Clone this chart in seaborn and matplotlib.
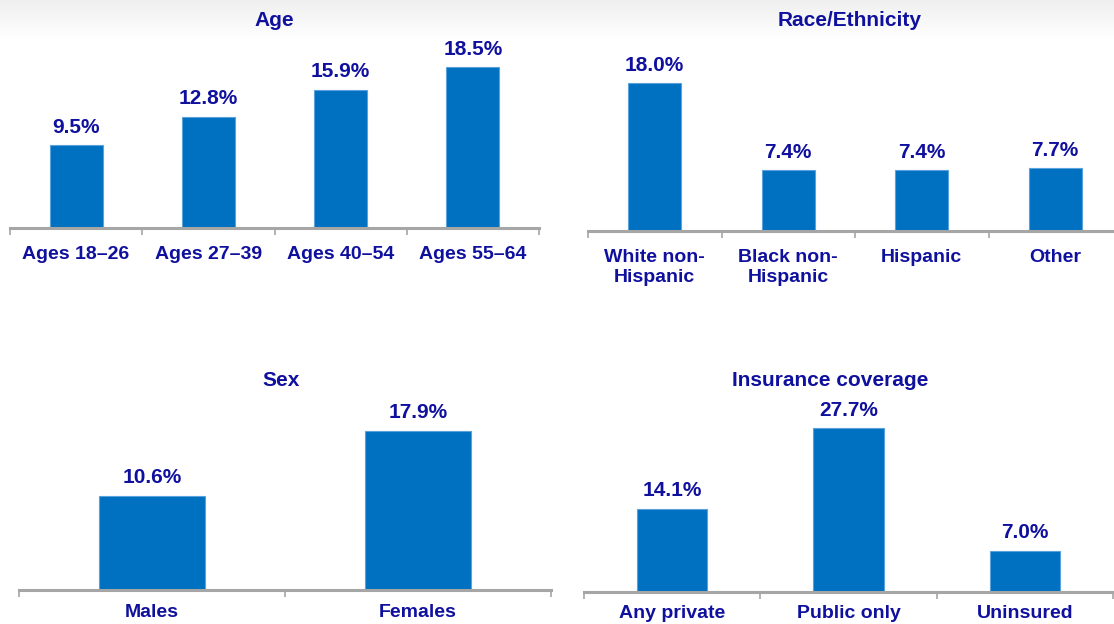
import numpy as np
import matplotlib
matplotlib.use('Agg')
import matplotlib.pyplot as plt
import seaborn as sns

# Data
age_labels = ['Ages 18–26', 'Ages 27–39', 'Ages 40–54', 'Ages 55–64']
age_values = [9.5, 12.8, 15.9, 18.5]

race_labels = ['White non-\nHispanic', 'Black non-\nHispanic', 'Hispanic', 'Other']
race_values = [18.0, 7.4, 7.4, 7.7]

sex_labels = ['Males', 'Females']
sex_values = [10.6, 17.9]

ins_labels = ['Any private', 'Public only', 'Uninsured']
ins_values = [14.1, 27.7, 7.0]

sns.set_style('white')
plt.rcParams['font.family'] = ['Liberation Sans', 'DejaVu Sans']

BAR = '#0070C0'
EDGE = '#5AA2DC'
TXT = '#10109E'
AXIS = '#A6A6A6'

W, H = 1114, 624
fig = plt.figure(figsize=(W / 100, H / 100), dpi=100)
fig.patch.set_facecolor('white')

# light gray band at the top
bg = fig.add_axes([0, 1 - 40 / H, 1, 40 / H])
grad = np.linspace(0.94, 1.0, 64).reshape(-1, 1)
bg.imshow(np.dstack([grad, grad, grad]), aspect='auto', extent=[0, 1, 0, 1])
bg.set_axis_off()

# (labels, values, title, left px, right px, axis y px, top y px, px per unit, title x offset, label pad)
panels = [
    (age_labels, age_values, 'Age', 10, 539, 228, 40, 8.7, 0, 13),
    (race_labels, race_values, 'Race/Ethnicity', 588, 1122, 231, 40, 8.2, -5, 13),
    (sex_labels, sex_values, 'Sex', 19, 551, 590, 400, 8.9, -4, 10),
    (ins_labels, ins_values, 'Insurance coverage', 584, 1113, 592, 400, 5.92, -18, 9),
]

for labels, values, title, x0, x1, yb, yt, ppu, tdx, lpad in panels:
    ax = fig.add_axes([x0 / W, 1 - yb / H, (x1 - x0) / W, (yb - yt) / H])
    ax.set_facecolor('none')
    sns.barplot(x=labels, y=values, ax=ax, color=BAR, width=0.4,
                edgecolor=EDGE, linewidth=0.8, saturation=1)
    n = len(labels)
    ax.set_xlim(-0.5, n - 0.5)
    ax.set_ylim(0, (yb - yt) / ppu)

    for c in ax.containers:
        ax.bar_label(c, labels=[f'{v:.1f}%' for v in values], padding=6,
                     color=TXT, fontsize=15, fontweight='bold')

    # ticks at category boundaries, labels at centers
    ax.set_xticks(np.arange(n + 1) - 0.5)
    ax.set_xticklabels([''] * (n + 1))
    ax.set_xticks(np.arange(n), minor=True)
    ax.set_xticklabels(labels, minor=True, color=TXT, fontsize=14,
                       fontweight='bold', linespacing=1.25)
    ax.tick_params(axis='x', which='major', length=5, width=1.2, color=AXIS,
                   direction='out', bottom=True)
    ax.tick_params(axis='x', which='minor', length=0, pad=lpad, bottom=True)
    ax.set_yticks([])
    ax.set_xlabel('')
    ax.set_ylabel('')
    for s in ['top', 'right', 'left']:
        ax.spines[s].set_visible(False)
    ax.spines['bottom'].set_color(AXIS)
    ax.spines['bottom'].set_linewidth(2.2)

    tx = ((x0 + x1) / 2 + tdx) / W
    ty = 1 - (yt - 20) / H
    fig.text(tx, ty, title, ha='center', va='center', color=TXT,
             fontsize=15, fontweight='bold')

fig.savefig('out.png', dpi=100)
plt.close()
